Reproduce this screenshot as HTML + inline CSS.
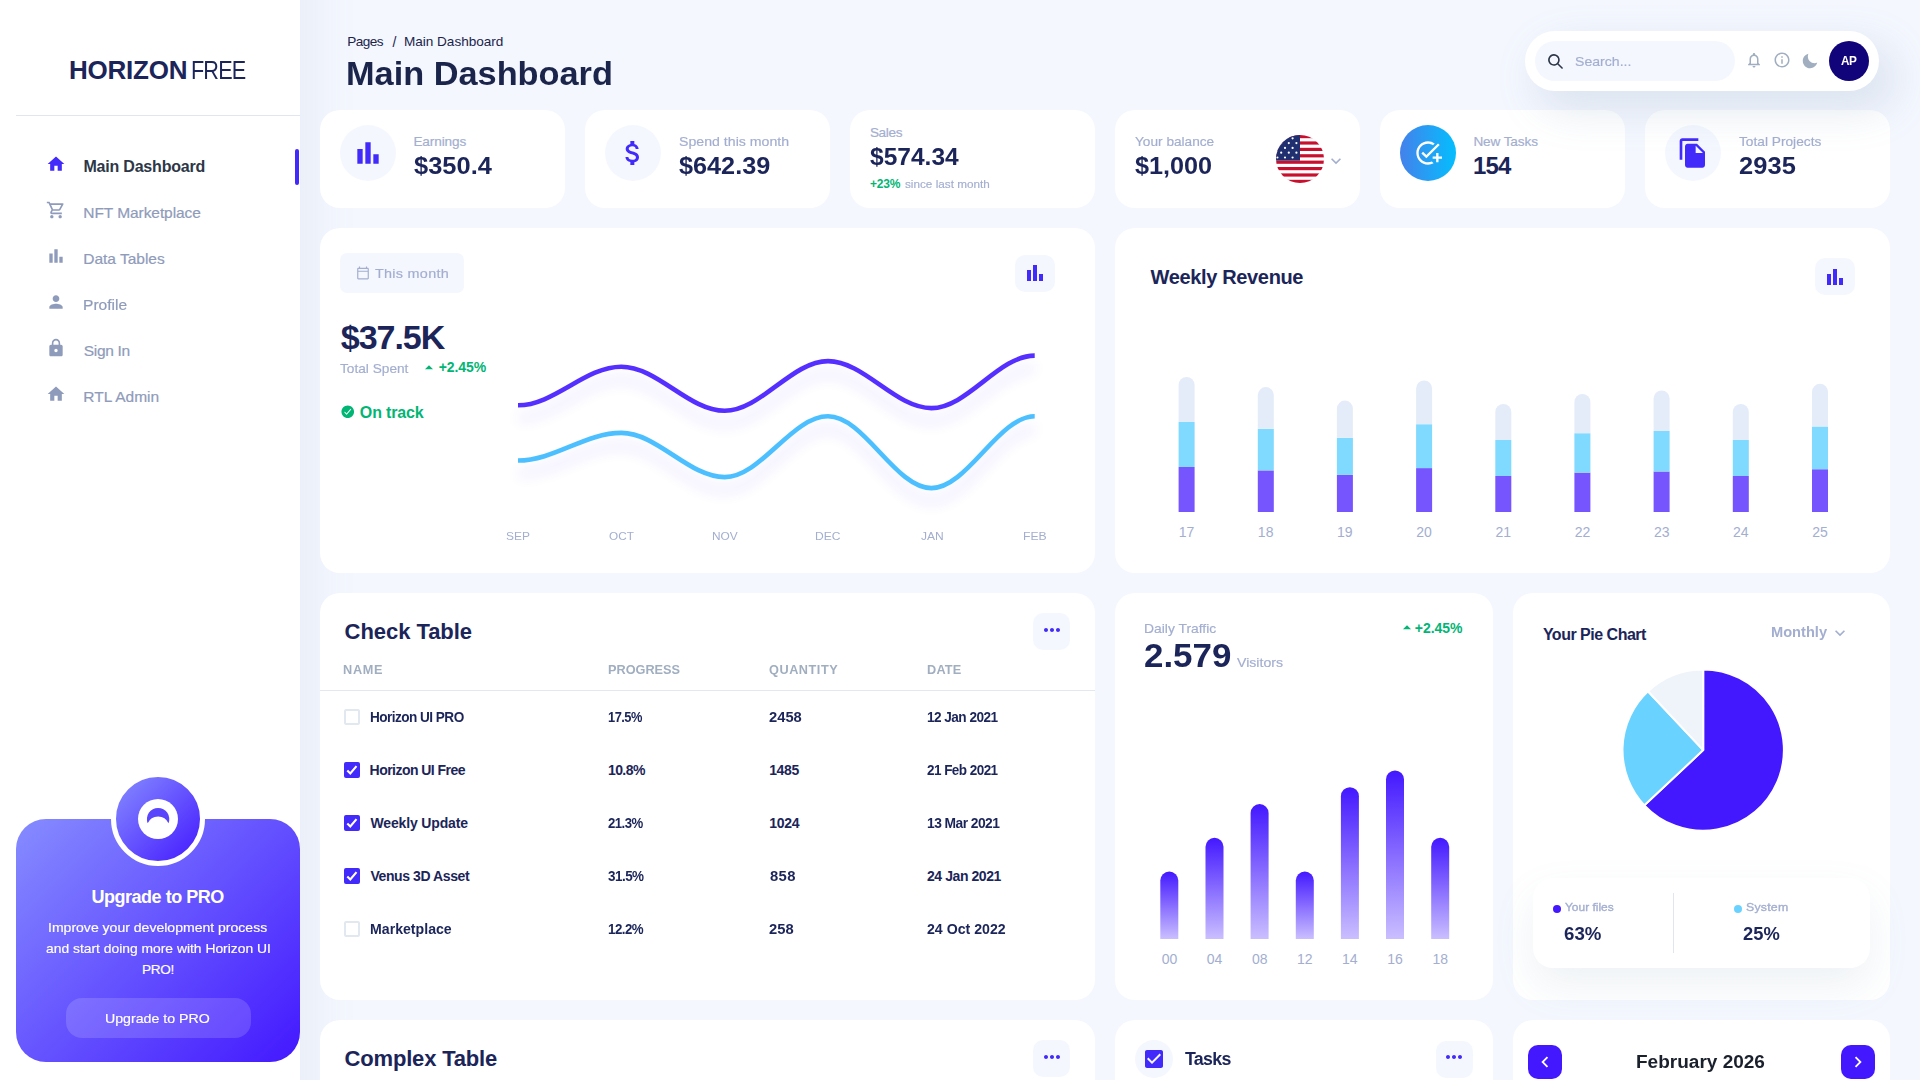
<!DOCTYPE html>
<html lang="en"><head><meta charset="utf-8"><title>Horizon UI Dashboard</title>
<style>
html,body{margin:0;padding:0}
body{width:1920px;height:1080px;overflow:hidden;background:#F4F7FE;position:relative;font-family:"Liberation Sans",sans-serif;}
.a{position:absolute;display:block}
.t{position:absolute;white-space:nowrap}
.card{position:absolute;background:#fff;border-radius:20px}
#root{position:absolute;left:0;top:0;width:1920px;height:1080px;overflow:hidden;background:#F4F7FE}
</style></head><body>
<div id="root">
<aside>
<div class="a" style="left:0px;top:-80px;width:300px;height:1240px;background:#fff;box-shadow:14px 17px 40px 4px rgba(112,144,176,0.08);"></div>
<div class="t" style="left:69.06px;top:57.24px;font-size:26.0px;line-height:26.0px;color:#1B2559;font-weight:700;letter-spacing:-0.247px;">HORIZON</div>
<div class="t" style="left:191.27px;top:57.24px;font-size:26.0px;line-height:26.0px;color:#1B2559;letter-spacing:-1.040px;transform:scaleX(0.8327);transform-origin:0 0;">FREE</div>
<div class="a" style="left:16px;top:115px;width:284px;height:1px;background:#E0E5F2;"></div>
<svg class="a" style="left:46px;top:154px;" width="20" height="20" viewBox="0 0 24 24" fill="#422AFB"><path d="M10 20v-6h4v6h5v-8h3L12 3 2 12h3v8z"/></svg>
<div class="t" style="left:83.46px;top:158.96px;font-size:16.0px;line-height:16.0px;color:#2D3748;font-weight:700;letter-spacing:-0.204px;">Main Dashboard</div>
<svg class="a" style="left:46px;top:200px;" width="20" height="20" viewBox="0 0 24 24" fill="#8F9BBA"><path d="M15.55 13c.75 0 1.41-.41 1.75-1.03l3.58-6.49A.996.996 0 0020.01 4H5.21l-.94-2H1v2h2l3.6 7.59-1.35 2.44C4.52 15.37 5.48 17 7 17h12v-2H7l1.1-2h7.45zM6.16 6h12.15l-2.76 5H8.53L6.16 6zM7 18c-1.1 0-1.99.9-1.99 2S5.9 22 7 22s2-.9 2-2-.9-2-2-2zm10 0c-1.1 0-1.99.9-1.99 2s.89 2 1.99 2 2-.9 2-2-.9-2-2-2z"/></svg>
<div class="t" style="left:83.26px;top:205.36px;font-size:15.52px;line-height:15.52px;color:#8F9BBA;letter-spacing:-0.074px;-webkit-text-stroke:0.21px #8F9BBA;">NFT Marketplace</div>
<svg class="a" style="left:46px;top:246px;" width="20" height="20" viewBox="0 0 24 24" fill="#8F9BBA"><path d="M4 9h4v11H4zm12 4h4v7h-4zm-6-9h4v16h-4z"/></svg>
<div class="t" style="left:83.26px;top:251.36px;font-size:15.52px;line-height:15.52px;color:#8F9BBA;letter-spacing:-0.018px;-webkit-text-stroke:0.21px #8F9BBA;">Data Tables</div>
<svg class="a" style="left:46px;top:292px;" width="20" height="20" viewBox="0 0 24 24" fill="#8F9BBA"><path d="M12 12c2.21 0 4-1.79 4-4s-1.79-4-4-4-4 1.79-4 4 1.79 4 4 4zm0 2c-2.67 0-8 1.34-8 4v2h16v-2c0-2.66-5.33-4-8-4z"/></svg>
<div class="t" style="left:83.25px;top:297.36px;font-size:15.52px;line-height:15.52px;color:#8F9BBA;transform:scaleX(1.0045);transform-origin:0 0;-webkit-text-stroke:0.21px #8F9BBA;">Profile</div>
<svg class="a" style="left:46px;top:338px;" width="20" height="20" viewBox="0 0 24 24" fill="#8F9BBA"><path d="M18 8h-1V6c0-2.76-2.24-5-5-5S7 3.24 7 6v2H6c-1.1 0-2 .9-2 2v10c0 1.1.9 2 2 2h12c1.1 0 2-.9 2-2V10c0-1.1-.9-2-2-2zm-6 9c-1.1 0-2-.9-2-2s.9-2 2-2 2 .9 2 2-.9 2-2 2zm3.1-9H8.9V6c0-1.71 1.39-3.1 3.1-3.1 1.71 0 3.1 1.39 3.1 3.1v2z"/></svg>
<div class="t" style="left:83.80px;top:343.36px;font-size:15.52px;line-height:15.52px;color:#8F9BBA;letter-spacing:-0.343px;-webkit-text-stroke:0.21px #8F9BBA;">Sign In</div>
<svg class="a" style="left:46px;top:384px;" width="20" height="20" viewBox="0 0 24 24" fill="#8F9BBA"><path d="M10 20v-6h4v6h5v-8h3L12 3 2 12h3v8z"/></svg>
<div class="t" style="left:83.26px;top:389.36px;font-size:15.52px;line-height:15.52px;color:#8F9BBA;-webkit-text-stroke:0.21px #8F9BBA;">RTL Admin</div>
<div class="a" style="left:295px;top:149px;width:4px;height:36px;background:#422AFB;border-radius:5px;"></div>
<div class="a" style="left:16px;top:819px;width:284px;height:243px;background:linear-gradient(135deg,#868CFF 0%,#4318FF 100%);border-radius:30px;"></div>
<div class="a" style="left:111px;top:772px;width:84px;height:84px;border:5px solid #fff;border-radius:50%;background:linear-gradient(135deg,#868CFF 0%,#4318FF 100%);"></div>
<svg class="a" style="left:138px;top:799px" width="40" height="40" viewBox="0 0 40 40"><circle cx="20" cy="20" r="20" fill="#fff"/><path d="M9.7 24.3 A11.2 11.2 0 1 1 30.5 24.3 A11.3 11.3 0 0 0 9.7 24.3 Z" fill="#5A45FC"/></svg>
<div class="t" style="left:91.42px;top:887.76px;font-size:18.0px;line-height:18.0px;color:#fff;font-weight:700;letter-spacing:-0.474px;">Upgrade to PRO</div>
<div class="t" style="left:47.99px;top:920.50px;font-size:13.58px;line-height:13.58px;color:#fff;transform:scaleX(1.0336);transform-origin:0 0;-webkit-text-stroke:0.18px #fff;">Improve your development process</div>
<div class="t" style="left:45.95px;top:941.50px;font-size:13.58px;line-height:13.58px;color:#fff;transform:scaleX(1.0203);transform-origin:0 0;-webkit-text-stroke:0.18px #fff;">and start doing more with Horizon UI</div>
<div class="t" style="left:141.91px;top:962.50px;font-size:13.58px;line-height:13.58px;color:#fff;letter-spacing:-0.276px;-webkit-text-stroke:0.18px #fff;">PRO!</div>
<div class="a" style="left:66px;top:998px;width:185px;height:40px;background:rgba(255,255,255,0.15);border-radius:16px;"></div>
<div class="t" style="left:105.44px;top:1011.50px;font-size:13.58px;line-height:13.58px;color:#fff;transform:scaleX(1.0433);transform-origin:0 0;-webkit-text-stroke:0.18px #fff;">Upgrade to PRO</div>
</aside>
<main>
<div class="t" style="left:347.16px;top:35.25px;font-size:13.58px;line-height:13.58px;color:#1B254B;letter-spacing:-0.543px;">Pages</div>
<div class="t" style="left:392.50px;top:34.90px;font-size:14.0px;line-height:14.0px;color:#1B254B;">/</div>
<div class="t" style="left:403.91px;top:35.25px;font-size:13.58px;line-height:13.58px;color:#1B254B;letter-spacing:-0.011px;">Main Dashboard</div>
<div class="t" style="left:346.27px;top:57.07px;font-size:33.0px;line-height:33.0px;color:#1B254B;font-weight:700;transform:scaleX(1.0398);transform-origin:0 0;">Main Dashboard</div>
<div class="card" style="left:320px;top:110px;width:245px;height:98px"></div>
<div class="card" style="left:585px;top:110px;width:245px;height:98px"></div>
<div class="card" style="left:850px;top:110px;width:245px;height:98px"></div>
<div class="card" style="left:1115px;top:110px;width:245px;height:98px"></div>
<div class="card" style="left:1380px;top:110px;width:245px;height:98px"></div>
<div class="card" style="left:1645px;top:110px;width:245px;height:98px"></div>
<div class="a" style="left:340px;top:125px;width:56px;height:56px;background:#F4F7FE;border-radius:50%;"></div>
<svg class="a" style="left:352px;top:137px;" width="32" height="32" viewBox="0 0 24 24" fill="#422AFB"><path d="M4 9h4v11H4zm12 4h4v7h-4zm-6-9h4v16h-4z"/></svg>
<div class="t" style="left:413.41px;top:135.00px;font-size:13.58px;line-height:13.58px;color:#A3AED0;letter-spacing:-0.109px;-webkit-text-stroke:0.18px #A3AED0;">Earnings</div>
<div class="t" style="left:414.12px;top:153.68px;font-size:24.0px;line-height:24.0px;color:#1B2559;font-weight:700;letter-spacing:0.031px;transform:scaleX(1.0600);transform-origin:0 0;">$350.4</div>
<div class="a" style="left:605px;top:125px;width:56px;height:56px;background:#F4F7FE;border-radius:50%;"></div>
<svg class="a" style="left:617px;top:137px;" width="32" height="32" viewBox="0 0 24 24" fill="#422AFB"><path d="M11.8 10.9c-2.27-.59-3-1.2-3-2.15 0-1.09 1.01-1.85 2.7-1.85 1.78 0 2.44.85 2.5 2.1h2.21c-.07-1.72-1.12-3.3-3.21-3.81V3h-3v2.16c-1.94.42-3.5 1.68-3.5 3.61 0 2.31 1.91 3.46 4.7 4.13 2.5.6 3 1.48 3 2.41 0 .69-.49 1.79-2.7 1.79-2.06 0-2.87-.92-2.98-2.1h-2.2c.12 2.19 1.76 3.42 3.68 3.83V21h3v-2.15c1.95-.37 3.5-1.5 3.5-3.55 0-2.84-2.43-3.81-4.7-4.4z"/></svg>
<div class="t" style="left:678.86px;top:135.00px;font-size:13.58px;line-height:13.58px;color:#A3AED0;transform:scaleX(1.0417);transform-origin:0 0;-webkit-text-stroke:0.18px #A3AED0;">Spend this month</div>
<div class="t" style="left:679.12px;top:153.68px;font-size:24.0px;line-height:24.0px;color:#1B2559;font-weight:700;transform:scaleX(1.0519);transform-origin:0 0;">$642.39</div>
<div class="t" style="left:869.89px;top:126.00px;font-size:13.58px;line-height:13.58px;color:#A3AED0;letter-spacing:-0.341px;-webkit-text-stroke:0.18px #A3AED0;">Sales</div>
<div class="t" style="left:870.13px;top:145.18px;font-size:24.0px;line-height:24.0px;color:#1B2559;font-weight:700;transform:scaleX(1.0228);transform-origin:0 0;">$574.34</div>
<div class="t" style="left:870.02px;top:177.84px;font-size:12.0px;line-height:12.0px;color:#01B574;font-weight:700;letter-spacing:-0.247px;">+23%</div>
<div class="t" style="left:904.65px;top:178.15px;font-size:11.64px;line-height:11.64px;color:#A3AED0;transform:scaleX(1.0091);transform-origin:0 0;-webkit-text-stroke:0.16px #A3AED0;">since last month</div>
<div class="t" style="left:1135.16px;top:135.00px;font-size:13.58px;line-height:13.58px;color:#A3AED0;transform:scaleX(1.0056);transform-origin:0 0;-webkit-text-stroke:0.18px #A3AED0;">Your balance</div>
<div class="t" style="left:1135.12px;top:153.68px;font-size:24.0px;line-height:24.0px;color:#1B2559;font-weight:700;transform:scaleX(1.0503);transform-origin:0 0;">$1,000</div>
<svg class="a" style="left:1276px;top:135px" width="48" height="48" viewBox="0 0 48 48"><defs><clipPath id="fc"><circle cx="24" cy="24" r="24"/></clipPath></defs><g clip-path="url(#fc)"><rect width="48" height="48" fill="#fff"/><rect x="0" y="0.00" width="48" height="3.20" fill="#C8102E"/><rect x="0" y="6.40" width="48" height="3.20" fill="#C8102E"/><rect x="0" y="12.80" width="48" height="3.20" fill="#C8102E"/><rect x="0" y="19.20" width="48" height="3.20" fill="#C8102E"/><rect x="0" y="25.60" width="48" height="3.20" fill="#C8102E"/><rect x="0" y="32.00" width="48" height="3.20" fill="#C8102E"/><rect x="0" y="38.40" width="48" height="3.20" fill="#C8102E"/><rect x="0" y="44.80" width="48" height="3.20" fill="#C8102E"/><rect x="0" y="0" width="24" height="25.60" fill="#1F2F70"/><circle cx="1.4" cy="3.3" r="1.1" fill="#fff"/><circle cx="9.0" cy="3.3" r="1.1" fill="#fff"/><circle cx="16.6" cy="3.3" r="1.1" fill="#fff"/><circle cx="5.2" cy="8.1" r="1.1" fill="#fff"/><circle cx="12.8" cy="8.1" r="1.1" fill="#fff"/><circle cx="20.4" cy="8.1" r="1.1" fill="#fff"/><circle cx="1.4" cy="12.9" r="1.1" fill="#fff"/><circle cx="9.0" cy="12.9" r="1.1" fill="#fff"/><circle cx="16.6" cy="12.9" r="1.1" fill="#fff"/><circle cx="5.2" cy="17.7" r="1.1" fill="#fff"/><circle cx="12.8" cy="17.7" r="1.1" fill="#fff"/><circle cx="20.4" cy="17.7" r="1.1" fill="#fff"/><circle cx="1.4" cy="22.5" r="1.1" fill="#fff"/><circle cx="9.0" cy="22.5" r="1.1" fill="#fff"/><circle cx="16.6" cy="22.5" r="1.1" fill="#fff"/></g></svg>
<svg class="a" style="left:1326px;top:150.7px;" width="20" height="20" viewBox="0 0 24 24" fill="#A3AED0"><path d="M16.590 8.590L12 13.170 7.410 8.590 6 10l6 6 6-6z"/></svg>
<div class="a" style="left:1400px;top:125px;width:56px;height:56px;background:linear-gradient(90deg,#4481EB 0%,#04BEFE 100%);border-radius:50%;"></div>
<svg class="a" style="left:1414px;top:139px;" width="28" height="28" viewBox="0 0 24 24" fill="#fff"><path d="M22 5.18L10.59 16.6l-4.24-4.24 1.41-1.41 2.83 2.83 10-10L22 5.18zM12 20c-4.41 0-8-3.59-8-8s3.59-8 8-8c1.57 0 3.04.46 4.28 1.25l1.45-1.45A10.02 10.02 0 0012 2C6.48 2 2 6.48 2 12s4.48 10 10 10c1.73 0 3.36-.44 4.78-1.22l-1.5-1.5c-1 .46-2.11.72-3.28.72zm7-5h-3v2h3v3h2v-3h3v-2h-3v-3h-2v3z"/></svg>
<div class="t" style="left:1473.41px;top:135.00px;font-size:13.58px;line-height:13.58px;color:#A3AED0;letter-spacing:-0.103px;-webkit-text-stroke:0.18px #A3AED0;">New Tasks</div>
<div class="t" style="left:1473.06px;top:153.68px;font-size:24.0px;line-height:24.0px;color:#1B2559;font-weight:700;letter-spacing:-0.825px;">154</div>
<div class="a" style="left:1665px;top:125px;width:56px;height:56px;background:#F4F7FE;border-radius:50%;"></div>
<svg class="a" style="left:1677px;top:137px;" width="32" height="32" viewBox="0 0 24 24" fill="#422AFB"><path d="M16 1H4c-1.1 0-2 .9-2 2v14h2V3h12V1zm-1 4l6 6v10c0 1.1-.9 2-2 2H7.99C6.89 23 6 22.1 6 21l.01-14c0-1.1.89-2 1.99-2h7zm-1 7h5.5L14 6.500V12z"/></svg>
<div class="t" style="left:1739.23px;top:135.00px;font-size:13.58px;line-height:13.58px;color:#A3AED0;transform:scaleX(1.0099);transform-origin:0 0;-webkit-text-stroke:0.18px #A3AED0;">Total Projects</div>
<div class="t" style="left:1738.61px;top:153.68px;font-size:24.0px;line-height:24.0px;color:#1B2559;font-weight:700;letter-spacing:0.070px;transform:scaleX(1.0600);transform-origin:0 0;">2935</div>
<div class="card" style="left:320px;top:228px;width:775px;height:345px"></div>
<div class="card" style="left:1115px;top:228px;width:775px;height:345px"></div>
<div class="a" style="left:340px;top:253px;width:124px;height:39.5px;background:#F4F7FE;border-radius:7px;"></div>
<svg class="a" style="left:355.8px;top:265.7px;" width="14" height="14" viewBox="0 0 24 24" fill="#A3AED0"><path d="M20 3h-1V1h-2v2H7V1H5v2H4c-1.1 0-2 .9-2 2v16c0 1.1.9 2 2 2h16c1.100 0 2-.9 2-2V5c0-1.100-.9-2-2-2zm0 18H4V10h16v11zm0-13H4V5h16v3z"/></svg>
<div class="t" style="left:374.71px;top:266.50px;font-size:13.58px;line-height:13.58px;color:#A3AED0;letter-spacing:0.266px;transform:scaleX(1.0600);transform-origin:0 0;-webkit-text-stroke:0.18px #A3AED0;">This month</div>
<div class="a" style="left:1015px;top:255px;width:40px;height:37px;background:#F4F7FE;border-radius:10px;"></div>
<svg class="a" style="left:1023px;top:261.3px;" width="24" height="24" viewBox="0 0 24 24" fill="#422AFB"><path d="M4 9h4v11H4zm12 4h4v7h-4zm-6-9h4v16h-4z"/></svg>
<div class="t" style="left:340.74px;top:319.97px;font-size:34.0px;line-height:34.0px;color:#1B2559;font-weight:700;letter-spacing:-1.010px;">$37.5K</div>
<div class="t" style="left:340.23px;top:362.25px;font-size:13.58px;line-height:13.58px;color:#A3AED0;transform:scaleX(1.0065);transform-origin:0 0;-webkit-text-stroke:0.18px #A3AED0;">Total Spent</div>
<svg class="a" style="left:421px;top:360px;" width="16" height="16" viewBox="0 0 24 24" fill="#01B574"><path d="M12 8l6 6H6z"/></svg>
<div class="t" style="left:438.69px;top:359.85px;font-size:14.0px;line-height:14.0px;color:#01B574;font-weight:700;letter-spacing:-0.094px;">+2.45%</div>
<svg class="a" style="left:340px;top:404.3px;" width="15.5" height="15.5" viewBox="0 0 512 512" fill="#01B574"><path d="M256 48C141.310 48 48 141.310 48 256s93.310 208 208 208 208-93.310 208-208S370.690 48 256 48zm108.250 138.290l-134.400 160a16 16 0 01-12 5.710h-.270a16 16 0 01-11.890-5.300l-57.600-64a16 16 0 1123.780-21.400l45.290 50.320 122.590-145.910a16 16 0 0124.500 20.580z"/></svg>
<div class="t" style="left:359.86px;top:404.76px;font-size:16.0px;line-height:16.0px;color:#01B574;font-weight:700;letter-spacing:-0.177px;">On track</div>
<svg class="a" style="left:320px;top:228px" width="775" height="345" viewBox="320 228 775 345"><defs><filter id="ds" x="-10%" y="-50%" width="120%" height="220%"><feGaussianBlur stdDeviation="7"/></filter></defs><g filter="url(#ds)" opacity="0.13" fill="none" stroke="#4318FF" stroke-width="5" transform="translate(0 13)"><path d="M518.0 405.3 C554.2 405.3 585.2 366.7 621.3 366.7 C657.5 366.7 688.5 410.8 724.7 410.8 C760.8 410.8 791.9 361.1 828.0 361.1 C864.2 361.1 895.2 408.1 931.4 408.1 C967.5 408.1 998.5 355.6 1034.7 355.6"/><path d="M518.0 460.5 C554.2 460.5 585.2 432.9 621.3 432.9 C657.5 432.9 688.5 477.1 724.7 477.1 C760.8 477.1 791.9 416.3 828.0 416.3 C864.2 416.3 895.2 488.1 931.4 488.1 C967.5 488.1 998.5 416.3 1034.7 416.3"/></g><path d="M518.0 405.3 C554.2 405.3 585.2 366.7 621.3 366.7 C657.5 366.7 688.5 410.8 724.7 410.8 C760.8 410.8 791.9 361.1 828.0 361.1 C864.2 361.1 895.2 408.1 931.4 408.1 C967.5 408.1 998.5 355.6 1034.7 355.6" fill="none" stroke="#4318FF" stroke-opacity="0.9" stroke-width="4.6"/><path d="M518.0 460.5 C554.2 460.5 585.2 432.9 621.3 432.9 C657.5 432.9 688.5 477.1 724.7 477.1 C760.8 477.1 791.9 416.3 828.0 416.3 C864.2 416.3 895.2 488.1 931.4 488.1 C967.5 488.1 998.5 416.3 1034.7 416.3" fill="none" stroke="#39B8FF" stroke-opacity="0.9" stroke-width="4.600"/></svg>
<div class="t" style="left:506.35px;top:529.90px;font-size:11.64px;line-height:11.64px;color:#A3AED0;transform:scaleX(1.0288);transform-origin:0 0;">SEP</div>
<div class="t" style="left:609.08px;top:529.90px;font-size:11.64px;line-height:11.64px;color:#A3AED0;transform:scaleX(1.0109);transform-origin:0 0;">OCT</div>
<div class="t" style="left:711.68px;top:529.90px;font-size:11.64px;line-height:11.64px;color:#A3AED0;transform:scaleX(1.0204);transform-origin:0 0;">NOV</div>
<div class="t" style="left:815.32px;top:529.90px;font-size:11.64px;line-height:11.64px;color:#A3AED0;transform:scaleX(1.0365);transform-origin:0 0;">DEC</div>
<div class="t" style="left:920.71px;top:529.90px;font-size:11.64px;line-height:11.64px;color:#A3AED0;transform:scaleX(1.0337);transform-origin:0 0;">JAN</div>
<div class="t" style="left:1022.94px;top:529.90px;font-size:11.64px;line-height:11.64px;color:#A3AED0;transform:scaleX(1.0494);transform-origin:0 0;">FEB</div>
<div class="t" style="left:1150.50px;top:266.82px;font-size:20.0px;line-height:20.0px;color:#1B2559;font-weight:700;letter-spacing:-0.346px;">Weekly Revenue</div>
<div class="a" style="left:1815px;top:258.3px;width:40px;height:37px;background:#F4F7FE;border-radius:10px;"></div>
<svg class="a" style="left:1823px;top:265px;" width="24" height="24" viewBox="0 0 24 24" fill="#422AFB"><path d="M4 9h4v11H4zm12 4h4v7h-4zm-6-9h4v16h-4z"/></svg>
<svg class="a" style="left:1115px;top:228px" width="775" height="345" viewBox="1115 228 775 345"><rect x="1178.6" y="467.0" width="16" height="45.0" fill="#7655FF"/><rect x="1178.6" y="422.0" width="16" height="45.0" fill="#80D9FF"/><path d="M1178.6 422.0 V385.0 a8 8 0 0 1 16 0 V422.0 Z" fill="#E5ECF9"/><rect x="1257.8" y="470.4" width="16" height="41.6" fill="#7655FF"/><rect x="1257.8" y="428.8" width="16" height="41.6" fill="#80D9FF"/><path d="M1257.8 428.8 V395.1 a8 8 0 0 1 16 0 V428.8 Z" fill="#E5ECF9"/><rect x="1336.9" y="474.9" width="16" height="37.1" fill="#7655FF"/><rect x="1336.9" y="437.8" width="16" height="37.1" fill="#80D9FF"/><path d="M1336.9 437.8 V408.6 a8 8 0 0 1 16 0 V437.8 Z" fill="#E5ECF9"/><rect x="1416.1" y="468.1" width="16" height="43.9" fill="#7655FF"/><rect x="1416.1" y="424.2" width="16" height="43.9" fill="#80D9FF"/><path d="M1416.1 424.2 V388.4 a8 8 0 0 1 16 0 V424.2 Z" fill="#E5ECF9"/><rect x="1495.3" y="476.0" width="16" height="36.0" fill="#7655FF"/><rect x="1495.3" y="440.0" width="16" height="36.0" fill="#80D9FF"/><path d="M1495.3 440.0 V412.0 a8 8 0 0 1 16 0 V440.0 Z" fill="#E5ECF9"/><rect x="1574.4" y="472.6" width="16" height="39.4" fill="#7655FF"/><rect x="1574.4" y="433.2" width="16" height="39.4" fill="#80D9FF"/><path d="M1574.4 433.2 V401.9 a8 8 0 0 1 16 0 V433.2 Z" fill="#E5ECF9"/><rect x="1653.6" y="471.5" width="16" height="40.5" fill="#7655FF"/><rect x="1653.6" y="431.0" width="16" height="40.5" fill="#80D9FF"/><path d="M1653.6 431.0 V398.5 a8 8 0 0 1 16 0 V431.0 Z" fill="#E5ECF9"/><rect x="1732.8" y="476.0" width="16" height="36.0" fill="#7655FF"/><rect x="1732.8" y="440.0" width="16" height="36.0" fill="#80D9FF"/><path d="M1732.8 440.0 V412.0 a8 8 0 0 1 16 0 V440.0 Z" fill="#E5ECF9"/><rect x="1812.0" y="469.2" width="16" height="42.8" fill="#7655FF"/><rect x="1812.0" y="426.5" width="16" height="42.8" fill="#80D9FF"/><path d="M1812.0 426.5 V391.8 a8 8 0 0 1 16 0 V426.5 Z" fill="#E5ECF9"/></svg>
<div class="t" style="left:1178.76px;top:525.45px;font-size:14.0px;line-height:14.0px;color:#A3AED0;">17</div>
<div class="t" style="left:1257.86px;top:525.45px;font-size:14.0px;line-height:14.0px;color:#A3AED0;">18</div>
<div class="t" style="left:1337.06px;top:525.45px;font-size:14.0px;line-height:14.0px;color:#A3AED0;">19</div>
<div class="t" style="left:1416.34px;top:525.45px;font-size:14.0px;line-height:14.0px;color:#A3AED0;">20</div>
<div class="t" style="left:1495.58px;top:525.45px;font-size:14.0px;line-height:14.0px;color:#A3AED0;">21</div>
<div class="t" style="left:1574.78px;top:525.45px;font-size:14.0px;line-height:14.0px;color:#A3AED0;">22</div>
<div class="t" style="left:1653.88px;top:525.45px;font-size:14.0px;line-height:14.0px;color:#A3AED0;">23</div>
<div class="t" style="left:1732.98px;top:525.45px;font-size:14.0px;line-height:14.0px;color:#A3AED0;">24</div>
<div class="t" style="left:1812.22px;top:525.45px;font-size:14.0px;line-height:14.0px;color:#A3AED0;">25</div>
<div class="card" style="left:320px;top:593px;width:775px;height:407px"></div>
<div class="card" style="left:1115px;top:593px;width:377.5px;height:407px"></div>
<div class="card" style="left:1512.5px;top:593px;width:377.5px;height:407px"></div>
<div class="t" style="left:344.62px;top:620.63px;font-size:22.0px;line-height:22.0px;color:#1B2559;font-weight:700;letter-spacing:-0.053px;">Check Table</div>
<div class="a" style="left:1033px;top:613px;width:37px;height:37px;background:#F4F7FE;border-radius:10px;"></div>
<svg class="a" style="left:1039.5px;top:617.9px;" width="24" height="24" viewBox="0 0 24 24" fill="#422AFB"><path d="M6 10c-1.100 0-2 .9-2 2s.9 2 2 2 2-.9 2-2-.9-2-2-2zm12 0c-1.100 0-2 .9-2 2s.9 2 2 2 2-.9 2-2-.9-2-2-2zm-6 0c-1.100 0-2 .9-2 2s.9 2 2 2 2-.9 2-2-.9-2-2-2z"/></svg>
<div class="t" style="left:343.42px;top:663.84px;font-size:12.0px;line-height:12.0px;color:#A0AEC0;font-weight:700;letter-spacing:0.668px;transform:scaleX(1.0600);transform-origin:0 0;">NAME</div>
<div class="t" style="left:607.92px;top:663.84px;font-size:12.0px;line-height:12.0px;color:#A0AEC0;font-weight:700;transform:scaleX(1.0594);transform-origin:0 0;">PROGRESS</div>
<div class="t" style="left:769.49px;top:663.84px;font-size:12.0px;line-height:12.0px;color:#A0AEC0;font-weight:700;letter-spacing:0.499px;transform:scaleX(1.0600);transform-origin:0 0;">QUANTITY</div>
<div class="t" style="left:926.67px;top:663.84px;font-size:12.0px;line-height:12.0px;color:#A0AEC0;font-weight:700;letter-spacing:0.197px;transform:scaleX(1.0600);transform-origin:0 0;">DATE</div>
<div class="a" style="left:320px;top:690px;width:775px;height:1px;background:#E2E8F0;"></div>
<div class="a" style="left:344px;top:709px;width:12px;height:12px;border:2px solid #E2E8F0;border-radius:2px;background:#fff;"></div>
<div class="t" style="left:369.62px;top:710.15px;font-size:14.0px;line-height:14.0px;color:#1B2559;font-weight:700;letter-spacing:-0.560px;transform:scaleX(0.9721);transform-origin:0 0;">Horizon UI PRO</div>
<div class="t" style="left:607.98px;top:710.15px;font-size:14.0px;line-height:14.0px;color:#1B2559;font-weight:700;letter-spacing:-0.560px;transform:scaleX(0.9170);transform-origin:0 0;">17.5%</div>
<div class="t" style="left:769.48px;top:710.15px;font-size:14.0px;line-height:14.0px;color:#1B2559;font-weight:700;transform:scaleX(1.0516);transform-origin:0 0;">2458</div>
<div class="t" style="left:926.68px;top:710.15px;font-size:14.0px;line-height:14.0px;color:#1B2559;font-weight:700;letter-spacing:-0.560px;transform:scaleX(0.9733);transform-origin:0 0;">12 Jan 2021</div>
<svg class="a" style="left:344px;top:762px" width="16" height="16" viewBox="0 0 16 16"><rect width="16" height="16" rx="2" fill="#422AFB"/><polyline points="3.3 8.500 6.3 11.500 12.500 4.1" fill="none" stroke="#fff" stroke-width="2.1"/></svg>
<div class="t" style="left:369.59px;top:763.15px;font-size:14.0px;line-height:14.0px;color:#1B2559;font-weight:700;letter-spacing:-0.540px;">Horizon UI Free</div>
<div class="t" style="left:607.91px;top:763.15px;font-size:14.0px;line-height:14.0px;color:#1B2559;font-weight:700;letter-spacing:-0.560px;">10.8%</div>
<div class="t" style="left:769.16px;top:763.15px;font-size:14.0px;line-height:14.0px;color:#1B2559;font-weight:700;letter-spacing:-0.320px;">1485</div>
<div class="t" style="left:927.03px;top:763.15px;font-size:14.0px;line-height:14.0px;color:#1B2559;font-weight:700;letter-spacing:-0.560px;transform:scaleX(0.9638);transform-origin:0 0;">21 Feb 2021</div>
<svg class="a" style="left:344px;top:815px" width="16" height="16" viewBox="0 0 16 16"><rect width="16" height="16" rx="2" fill="#422AFB"/><polyline points="3.3 8.500 6.3 11.500 12.500 4.1" fill="none" stroke="#fff" stroke-width="2.1"/></svg>
<div class="t" style="left:370.50px;top:816.15px;font-size:14.0px;line-height:14.0px;color:#1B2559;font-weight:700;letter-spacing:-0.153px;">Weekly Update</div>
<div class="t" style="left:608.29px;top:816.15px;font-size:14.0px;line-height:14.0px;color:#1B2559;font-weight:700;letter-spacing:-0.560px;transform:scaleX(0.9424);transform-origin:0 0;">21.3%</div>
<div class="t" style="left:769.16px;top:816.15px;font-size:14.0px;line-height:14.0px;color:#1B2559;font-weight:700;letter-spacing:-0.247px;">1024</div>
<div class="t" style="left:926.67px;top:816.15px;font-size:14.0px;line-height:14.0px;color:#1B2559;font-weight:700;letter-spacing:-0.560px;transform:scaleX(0.9877);transform-origin:0 0;">13 Mar 2021</div>
<svg class="a" style="left:344px;top:868px" width="16" height="16" viewBox="0 0 16 16"><rect width="16" height="16" rx="2" fill="#422AFB"/><polyline points="3.3 8.500 6.3 11.500 12.500 4.1" fill="none" stroke="#fff" stroke-width="2.1"/></svg>
<div class="t" style="left:370.43px;top:869.15px;font-size:14.0px;line-height:14.0px;color:#1B2559;font-weight:700;letter-spacing:-0.415px;">Venus 3D Asset</div>
<div class="t" style="left:608.41px;top:869.15px;font-size:14.0px;line-height:14.0px;color:#1B2559;font-weight:700;letter-spacing:-0.560px;transform:scaleX(0.9633);transform-origin:0 0;">31.5%</div>
<div class="t" style="left:769.55px;top:869.15px;font-size:14.0px;line-height:14.0px;color:#1B2559;font-weight:700;letter-spacing:0.322px;transform:scaleX(1.0600);transform-origin:0 0;">858</div>
<div class="t" style="left:927.01px;top:869.15px;font-size:14.0px;line-height:14.0px;color:#1B2559;font-weight:700;letter-spacing:-0.427px;">24 Jan 2021</div>
<div class="a" style="left:344px;top:921px;width:12px;height:12px;border:2px solid #E2E8F0;border-radius:2px;background:#fff;"></div>
<div class="t" style="left:369.58px;top:922.15px;font-size:14.0px;line-height:14.0px;color:#1B2559;font-weight:700;transform:scaleX(1.0098);transform-origin:0 0;">Marketplace</div>
<div class="t" style="left:607.95px;top:922.15px;font-size:14.0px;line-height:14.0px;color:#1B2559;font-weight:700;letter-spacing:-0.560px;transform:scaleX(0.9515);transform-origin:0 0;">12.2%</div>
<div class="t" style="left:769.48px;top:922.15px;font-size:14.0px;line-height:14.0px;color:#1B2559;font-weight:700;transform:scaleX(1.0536);transform-origin:0 0;">258</div>
<div class="t" style="left:927.00px;top:922.15px;font-size:14.0px;line-height:14.0px;color:#1B2559;font-weight:700;transform:scaleX(1.0105);transform-origin:0 0;">24 Oct 2022</div>
<div class="t" style="left:1144.29px;top:621.50px;font-size:13.58px;line-height:13.58px;color:#A3AED0;transform:scaleX(1.0223);transform-origin:0 0;-webkit-text-stroke:0.18px #A3AED0;">Daily Traffic</div>
<div class="t" style="left:1144.18px;top:638.22px;font-size:34.0px;line-height:34.0px;color:#1B2559;font-weight:700;transform:scaleX(1.0264);transform-origin:0 0;">2.579</div>
<div class="t" style="left:1237.43px;top:655.50px;font-size:13.58px;line-height:13.58px;color:#A3AED0;transform:scaleX(1.0382);transform-origin:0 0;-webkit-text-stroke:0.18px #A3AED0;">Visitors</div>
<svg class="a" style="left:1398.5px;top:620px;" width="16" height="16" viewBox="0 0 24 24" fill="#01B574"><path d="M12 8l6 6H6z"/></svg>
<div class="t" style="left:1414.84px;top:621.15px;font-size:14.0px;line-height:14.0px;color:#01B574;font-weight:700;letter-spacing:-0.054px;">+2.45%</div>
<svg class="a" style="left:1115px;top:593px" width="377" height="407" viewBox="1115 593 377 407"><defs><linearGradient id="dg" x1="0" y1="0" x2="0" y2="1"><stop offset="0" stop-color="#4318FF"/><stop offset="1" stop-color="#4318FF" stop-opacity="0.28"/></linearGradient></defs><path d="M1160.3 938.9 V880.5 a9 9 0 0 1 18 0 V938.9 Z" fill="url(#dg)"/><path d="M1205.5 938.9 V846.8 a9 9 0 0 1 18 0 V938.9 Z" fill="url(#dg)"/><path d="M1250.6 938.9 V813.1 a9 9 0 0 1 18 0 V938.9 Z" fill="url(#dg)"/><path d="M1295.8 938.9 V880.5 a9 9 0 0 1 18 0 V938.9 Z" fill="url(#dg)"/><path d="M1340.9 938.9 V796.2 a9 9 0 0 1 18 0 V938.9 Z" fill="url(#dg)"/><path d="M1386.0 938.9 V779.4 a9 9 0 0 1 18 0 V938.9 Z" fill="url(#dg)"/><path d="M1431.2 938.9 V846.8 a9 9 0 0 1 18 0 V938.9 Z" fill="url(#dg)"/></svg>
<div class="t" style="left:1161.70px;top:952.25px;font-size:14.0px;line-height:14.0px;color:#A3AED0;">00</div>
<div class="t" style="left:1206.81px;top:952.25px;font-size:14.0px;line-height:14.0px;color:#A3AED0;">04</div>
<div class="t" style="left:1252.03px;top:952.25px;font-size:14.0px;line-height:14.0px;color:#A3AED0;">08</div>
<div class="t" style="left:1297.01px;top:952.25px;font-size:14.0px;line-height:14.0px;color:#A3AED0;">12</div>
<div class="t" style="left:1342.01px;top:952.25px;font-size:14.0px;line-height:14.0px;color:#A3AED0;">14</div>
<div class="t" style="left:1387.24px;top:952.25px;font-size:14.0px;line-height:14.0px;color:#A3AED0;">16</div>
<div class="t" style="left:1432.39px;top:952.25px;font-size:14.0px;line-height:14.0px;color:#A3AED0;">18</div>
<div class="t" style="left:1542.88px;top:627.46px;font-size:16.0px;line-height:16.0px;color:#1B2559;font-weight:700;letter-spacing:-0.495px;">Your Pie Chart</div>
<div class="t" style="left:1770.75px;top:624.85px;font-size:14.0px;line-height:14.0px;color:#A3AED0;font-weight:700;transform:scaleX(1.0448);transform-origin:0 0;">Monthly</div>
<svg class="a" style="left:1830.2px;top:622.75px;" width="20" height="20" viewBox="0 0 24 24" fill="#A3AED0"><path d="M16.590 8.590L12 13.170 7.410 8.590 6 10l6 6 6-6z"/></svg>
<svg class="a" style="left:1613px;top:660px" width="180" height="180" viewBox="1613 660 180 180"><path d="M1703.2 750.1 L1703.20 669.40 A80.7 80.7 0 1 1 1644.37 805.34 Z" fill="#4318FF" stroke="#fff" stroke-width="2" stroke-linejoin="round"/><path d="M1703.2 750.1 L1644.37 805.34 A80.7 80.7 0 0 1 1647.96 691.27 Z" fill="#6AD2FF" stroke="#fff" stroke-width="2" stroke-linejoin="round"/><path d="M1703.2 750.1 L1647.96 691.27 A80.7 80.7 0 0 1 1703.20 669.40 Z" fill="#EFF4FB" stroke="#fff" stroke-width="2" stroke-linejoin="round"/></svg>
<div class="a" style="left:1533px;top:878px;width:337px;height:90px;background:#fff;border-radius:20px;box-shadow:0px 18px 40px rgba(112,144,176,0.12);"></div>
<div class="a" style="left:1553px;top:905px;width:8px;height:8px;background:#4318FF;border-radius:50%;"></div>
<div class="t" style="left:1564.70px;top:901.15px;font-size:11.64px;line-height:11.64px;color:#A3AED0;transform:scaleX(1.0271);transform-origin:0 0;-webkit-text-stroke:0.16px #A3AED0;-webkit-text-stroke:0.35px #A3AED0;">Your files</div>
<div class="t" style="left:1564.35px;top:924.66px;font-size:18.0px;line-height:18.0px;color:#1B2559;font-weight:700;transform:scaleX(1.0367);transform-origin:0 0;">63%</div>
<div class="a" style="left:1673px;top:892.5px;width:1px;height:60px;background:#E0E5F2;"></div>
<div class="a" style="left:1734px;top:905px;width:8px;height:8px;background:#6AD2FF;border-radius:50%;"></div>
<div class="t" style="left:1745.84px;top:901.15px;font-size:11.64px;line-height:11.64px;color:#A3AED0;letter-spacing:0.209px;transform:scaleX(1.0600);transform-origin:0 0;-webkit-text-stroke:0.16px #A3AED0;-webkit-text-stroke:0.35px #A3AED0;">System</div>
<div class="t" style="left:1742.56px;top:924.66px;font-size:18.0px;line-height:18.0px;color:#1B2559;font-weight:700;transform:scaleX(1.0195);transform-origin:0 0;">25%</div>
<div class="card" style="left:320px;top:1020px;width:775px;height:400px"></div>
<div class="card" style="left:1115px;top:1020px;width:377.5px;height:400px"></div>
<div class="card" style="left:1512.5px;top:1020px;width:377.5px;height:400px"></div>
<div class="t" style="left:344.62px;top:1047.63px;font-size:22.0px;line-height:22.0px;color:#1B2559;font-weight:700;letter-spacing:-0.186px;">Complex Table</div>
<div class="a" style="left:1033px;top:1040px;width:37px;height:37px;background:#F4F7FE;border-radius:10px;"></div>
<svg class="a" style="left:1039.5px;top:1044.9px;" width="24" height="24" viewBox="0 0 24 24" fill="#422AFB"><path d="M6 10c-1.100 0-2 .9-2 2s.9 2 2 2 2-.9 2-2-.9-2-2-2zm12 0c-1.100 0-2 .9-2 2s.9 2 2 2 2-.9 2-2-.9-2-2-2zm-6 0c-1.100 0-2 .9-2 2s.9 2 2 2 2-.9 2-2-.9-2-2-2z"/></svg>
<div class="a" style="left:1135px;top:1040px;width:38px;height:38px;background:#F4F7FE;border-radius:50%;"></div>
<svg class="a" style="left:1142px;top:1047px;" width="24" height="24" viewBox="0 0 24 24" fill="#422AFB"><path d="M19 3H5c-1.110 0-2 .9-2 2v14c0 1.100.890 2 2 2h14c1.110 0 2-.9 2-2V5c0-1.100-.890-2-2-2zm-9 14l-5-5 1.410-1.410L10 14.170l7.590-7.590L19 8l-9 9z"/></svg>
<div class="t" style="left:1185.42px;top:1050.06px;font-size:18.0px;line-height:18.0px;color:#1B2559;font-weight:700;letter-spacing:-0.720px;transform:scaleX(0.9891);transform-origin:0 0;">Tasks</div>
<div class="a" style="left:1436.3px;top:1041.2px;width:37px;height:37px;background:#F4F7FE;border-radius:10px;"></div>
<svg class="a" style="left:1441.5px;top:1044.9px;" width="24" height="24" viewBox="0 0 24 24" fill="#422AFB"><path d="M6 10c-1.100 0-2 .9-2 2s.9 2 2 2 2-.9 2-2-.9-2-2-2zm12 0c-1.100 0-2 .9-2 2s.9 2 2 2 2-.9 2-2-.9-2-2-2zm-6 0c-1.100 0-2 .9-2 2s.9 2 2 2 2-.9 2-2-.9-2-2-2z"/></svg>
<div class="a" style="left:1528px;top:1045px;width:34px;height:34px;background:#4318FF;border-radius:10px;"></div>
<svg class="a" style="left:1534px;top:1051px;" width="22" height="22" viewBox="0 0 24 24" fill="#fff"><path d="M15.410 7.410L14 6l-6 6 6 6 1.410-1.410L10.830 12z"/></svg>
<div class="a" style="left:1841px;top:1045px;width:34px;height:34px;background:#4318FF;border-radius:10px;"></div>
<svg class="a" style="left:1847px;top:1051px;" width="22" height="22" viewBox="0 0 24 24" fill="#fff"><path d="M10 6L8.590 7.410 13.170 12l-4.580 4.590L10 18l6-6z"/></svg>
<div class="t" style="left:1636.26px;top:1052.96px;font-size:18.0px;line-height:18.0px;color:#1A202C;font-weight:700;transform:scaleX(1.0562);transform-origin:0 0;">February 2026</div>
</main>
<header>
<div class="a" style="left:1525px;top:31px;width:354px;height:60px;background:#fff;border-radius:30px;box-shadow:14px 17px 40px 4px rgba(112,144,176,0.18);"></div>
<div class="a" style="left:1535px;top:41px;width:200px;height:40px;background:#F4F7FE;border-radius:30px;"></div>
<svg class="a" style="left:1548px;top:53.5px;" width="15" height="15" viewBox="0 0 24 24" fill="#2D3748"><path d="M23.384,21.619,16.855,15.090a9.284,9.284,0,1,0-1.768,1.768l6.529,6.529a1.266,1.266,0,0,0,1.768,0A1.251,1.251,0,0,0,23.384,21.619ZM2.750,9.500a6.750,6.750,0,1,1,6.750,6.750A6.758,6.758,0,0,1,2.750,9.500Z"/></svg>
<div class="t" style="left:1574.87px;top:54.50px;font-size:13.58px;line-height:13.58px;color:#A3AED0;transform:scaleX(1.0384);transform-origin:0 0;-webkit-text-stroke:0.18px #A3AED0;">Search...</div>
<svg class="a" style="left:1745px;top:51.1px;" width="18" height="18" viewBox="0 0 24 24" fill="#A0AEC0"><path d="M12 22c1.100 0 2-.9 2-2h-4c0 1.100.9 2 2 2zm6-6v-5c0-3.070-1.630-5.640-4.500-6.320V4c0-.830-.670-1.500-1.500-1.500s-1.500.670-1.500 1.500v.680C7.640 5.360 6 7.920 6 11v5l-2 2v1h16v-1l-2-2zm-2 1H8v-6c0-2.480 1.510-4.500 4-4.500s4 2.020 4 4.500v6z"/></svg>
<svg class="a" style="left:1773px;top:51.1px;" width="18" height="18" viewBox="0 0 24 24" fill="#A0AEC0"><path d="M11 17h2v-6h-2v6zm1-15C6.480 2 2 6.480 2 12s4.480 10 10 10 10-4.480 10-10S17.520 2 12 2zm0 18c-4.410 0-8-3.590-8-8s3.590-8 8-8 8 3.590 8 8-3.590 8-8 8zM11 9h2V7h-2v2z"/></svg>
<svg class="a" style="left:1801px;top:52px;" width="18" height="18" viewBox="0 0 512 512" fill="#A0AEC0"><path d="M195 125c0-26.300 5.300-51.300 14.900-74.100C118.700 73 51 155.100 51 253c0 114.800 93.200 208 208 208 97.900 0 180-67.700 202.100-158.900-22.800 9.600-47.900 14.900-74.100 14.900-106 0-192-86-192-192z"/></svg>
<div class="a" style="left:1829px;top:41px;width:40px;height:40px;background:#11047A;border-radius:50%;"></div>
<div class="t" style="left:1841.11px;top:54.94px;font-size:12.0px;line-height:12.0px;color:#fff;font-weight:700;letter-spacing:-0.480px;transform:scaleX(0.9819);transform-origin:0 0;">AP</div>
</header>
</div>
</body></html>
